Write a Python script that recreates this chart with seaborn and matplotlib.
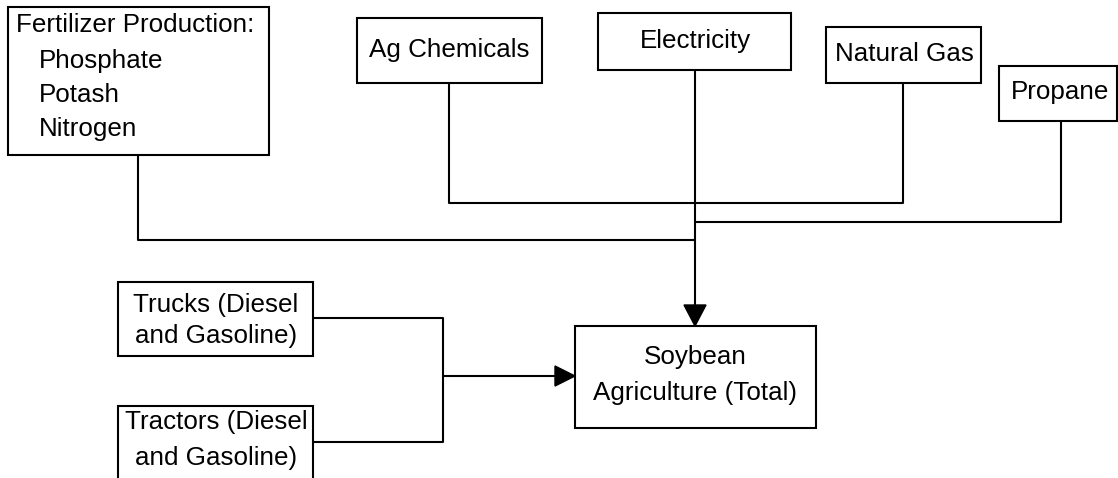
import matplotlib
matplotlib.use("Agg")
import matplotlib.pyplot as plt
import matplotlib.patches as mpatches
import seaborn as sns
import pandas as pd

# ---- content ----
node_names = ["fert", "agchem", "elec", "gas", "propane", "trucks", "tractors", "soy"]
node_labels = [
    None,
    "Ag Chemicals",
    "Electricity",
    "Natural Gas",
    "Propane",
    "Trucks (Diesel\nand Gasoline)",
    "Tractors (Diesel\nand Gasoline)",
    "Soybean\nAgriculture (Total)",
]
fert_title = "Fertilizer Production:"
fert_items = ["Phosphate", "Potash", "Nitrogen"]

# ---- layout (pixel coordinates, y down) ----
W, H = 1118, 478
boxes = {  # x0, y0, x1, y1
    "fert": (8, 7, 269, 155),
    "agchem": (357, 18, 542, 83),
    "elec": (598, 13, 791, 70),
    "gas": (826, 27, 981, 83),
    "propane": (999, 66, 1117, 121),
    "trucks": (118, 282, 313, 356),
    "tractors": (118, 406, 313, 495),
    "soy": (575, 326, 816, 428),
}
label_pos = {  # centre x, centre y, line step
    "agchem": (449, 50, 0),
    "elec": (695, 41, 0),
    "gas": (904, 54, 0),
    "propane": (1060, 92, 0),
    "trucks": (216, 320.5, 31),
    "tractors": (216, 440, 35),
    "soy": (695, 375, 36),
}
connectors = [
    [(138, 155), (138, 240), (695, 240)],
    [(449, 83), (449, 203), (903, 203), (903, 83)],
    [(695, 70), (695, 306)],
    [(1061, 121), (1061, 222), (695, 222)],
    [(313, 318), (443, 318), (443, 442), (313, 442)],
    [(443, 376), (556, 376)],
]

sns.set_theme(style="white")
plt.rcParams["font.family"] = ["Liberation Sans", "DejaVu Sans"]
plt.rcParams["text.color"] = "black"
FS = 18.7
LW = 1.5

fig = plt.figure(figsize=(W / 100, H / 100), dpi=100)
ax = fig.add_axes([0, 0, 1, 1])
ax.set_xlim(0, W)
ax.set_ylim(H, 0)
ax.axis("off")

for path in connectors:
    df = pd.DataFrame(path, columns=["x", "y"])
    sns.lineplot(data=df, x="x", y="y", sort=False, estimator=None,
                 color="black", linewidth=LW, ax=ax)

for name in node_names:
    x0, y0, x1, y1 = boxes[name]
    ax.add_patch(mpatches.Rectangle((x0, y0), x1 - x0, y1 - y0, fill=True,
                                    facecolor="white", edgecolor="black",
                                    linewidth=LW, zorder=3))

# arrowheads
ax.add_patch(mpatches.Polygon([(684, 305), (706, 305), (695, 326)], closed=True,
                              color="black", zorder=4))
ax.add_patch(mpatches.Polygon([(555, 366), (555, 386), (575, 376)], closed=True,
                              color="black", zorder=4))

for name, lab in zip(node_names, node_labels):
    if lab is None:
        continue
    x, y, step = label_pos[name]
    lines = lab.split("\n")
    n = len(lines)
    for k, line in enumerate(lines):
        yy = y + (k - (n - 1) / 2) * step
        ax.text(x, yy, line, ha="center", va="center", fontsize=FS,
                color="black", zorder=5)

ax.text(16, 25, fert_title, ha="left", va="center", fontsize=FS,
        color="black", zorder=5)
for k, item in enumerate(fert_items):
    ax.text(39, 61 + 34 * k, item, ha="left", va="center", fontsize=FS,
            color="black", zorder=5)

fig.savefig("out.png", dpi=100)
